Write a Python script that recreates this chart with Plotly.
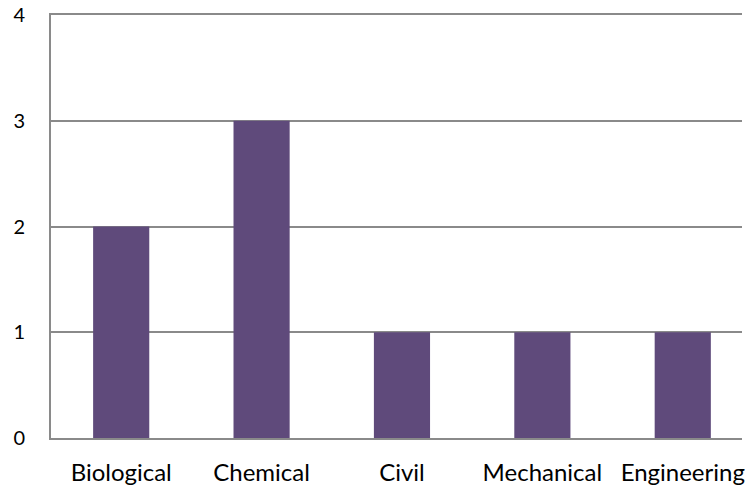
import plotly.graph_objects as go

categories = ["Biological", "Chemical", "Civil", "Mechanical", "Engineering"]
values = [2, 3, 1, 1, 1]
y_ticks = [0, 1, 2, 3, 4]

fig = go.Figure(go.Bar(
    x=categories, y=values,
    marker=dict(color="#5F4A7B", line=dict(width=0)),
))

grid = "#8A8A8A"
fig.update_layout(
    width=745, height=486,
    margin=dict(l=51, r=0, t=15, b=47),
    paper_bgcolor="white", plot_bgcolor="white",
    bargap=0.6,
    showlegend=False,
    font=dict(family="Lato, Carlito, sans-serif", size=21, color="black"),
)
fig.update_xaxes(
    range=[-0.5, -0.5 + (745 - 51) / 141],
    showgrid=False, showline=True, linecolor=grid, linewidth=2, mirror=True,
    ticks="", ticklabelstandoff=12,
    tickfont=dict(size=24),
)
fig.update_yaxes(
    range=[0, 4], tickvals=y_ticks,
    showgrid=True, gridcolor=grid, gridwidth=2,
    showline=True, linecolor=grid, linewidth=2,
    ticks="", ticklabelstandoff=20, zeroline=False,
    tickfont=dict(size=20),
)
fig.write_html("out.html")
